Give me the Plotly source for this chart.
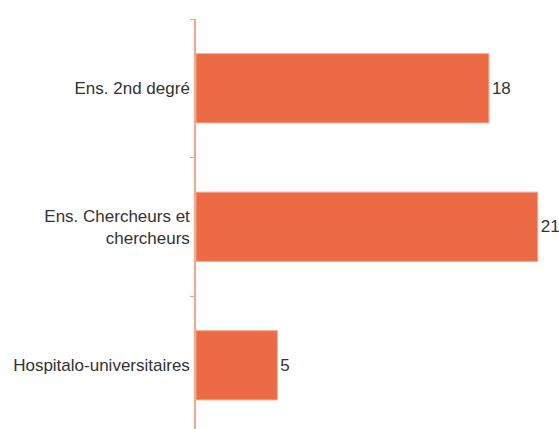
import plotly.graph_objects as go

categories = ["Ens. 2nd degré", "Ens. Chercheurs et<br>chercheurs", "Hospitalo-universitaires"]
values = [18, 21, 5]

fig = go.Figure(go.Bar(
    x=values, y=categories, orientation="h",
    marker=dict(color="#EC6B45", line=dict(color="#F6A88C", width=1)),
    text=[str(v) for v in values], textposition="outside",
    textfont=dict(color="#333333", size=17), cliponaxis=False,
))
fig.update_layout(
    width=559, height=429,
    margin=dict(l=196, r=5, t=19, b=0, autoexpand=False),
    paper_bgcolor="white", plot_bgcolor="white",
    font=dict(family="Arial, Liberation Sans, sans-serif", size=17, color="#333333"),
    bargap=0.5, showlegend=False,
    xaxis=dict(range=[0, 22], visible=False, zeroline=False, showgrid=False),
    yaxis=dict(range=[2.46, -0.5], showline=True, linecolor="#F6A88C", linewidth=1.5,
               ticks="outside", tickson="boundaries", ticklen=4, tickcolor="#F6A88C",
               showgrid=False, zeroline=False, ticklabelstandoff=1, automargin=False),
)
fig.write_html("out.html", config={"displayModeBar": False},
               post_script="document.body.style.margin='0';")
